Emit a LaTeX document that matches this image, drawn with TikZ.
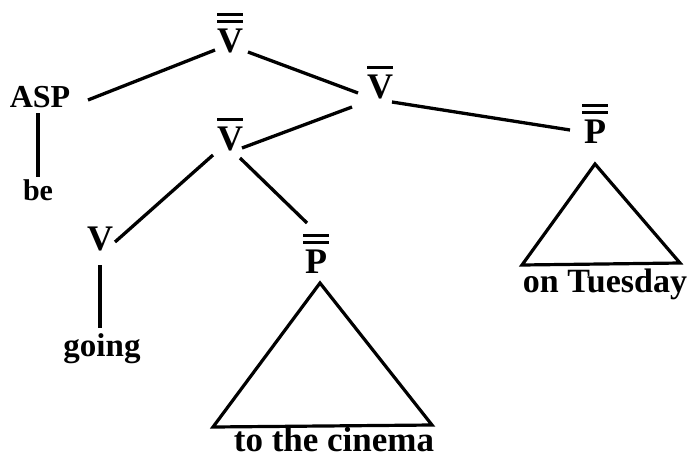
\documentclass[tikz,border=0pt]{standalone}
\usepackage{fontspec}
\setmainfont{Liberation Serif}
\usetikzlibrary{calc}
\newcommand\barline{\rule{0.7em}{3.5pt}}
\newcommand\sbar[1]{\vbox{\offinterlineskip\halign{\hfil##\hfil\cr\barline\cr\noalign{\kern5pt}#1\cr}}}
\newcommand\dbar[1]{\vbox{\offinterlineskip\halign{\hfil##\hfil\cr\barline\cr\noalign{\kern3.5pt}\barline\cr\noalign{\kern5pt}#1\cr}}}
\begin{document}
\begin{tikzpicture}[x=1pt,y=-1pt,
  conn/.style={line width=3.3pt},
  tri/.style={line width=3.2pt,line join=miter},
  cat/.style={inner sep=0pt,anchor=base,font=\fontsize{36}{40}\selectfont\bfseries},
  word/.style={inner sep=0pt,anchor=base,font=\fontsize{#1}{#1}\selectfont\bfseries}]
\useasboundingbox (0,0) rectangle (690,458);
\node[cat] (vbb) at (230,52) {\dbar{V}};
\node[word=32] (asp) at (40,107) {ASP};
\node[word=30] (be) at (38,200) {be};
\node[cat] (vbm) at (380,98) {\sbar{V}};
\node[cat] (vbl) at (230,150) {\sbar{V}};
\node[cat] (v) at (100,250) {V};
\node[word=33] (going) at (102,356) {going};
\node[cat] (ppl) at (316,273) {\dbar{P}};
\node[cat] (ppr) at (595,143) {\dbar{P}};
\node[word=34] (tue) at (605,292) {on Tuesday};
\node[word=35] (cin) at (334,451) {to the cinema};
\draw[conn] ($(vbb.base)+(-15,-2)$) -- ($(asp.base)+(48,-7)$);
\draw[conn] ($(vbb.base)+(18,0)$) -- ($(vbm.base)+(-22,-5)$);
\draw[conn] ($(vbm.base)+(-28,9)$) -- ($(vbl.base)+(12,-2)$);
\draw[conn] ($(vbm.base)+(12,4)$) -- ($(ppr.base)+(-25,-13)$);
\draw[conn] ($(vbl.base)+(-17,5)$) -- ($(v.base)+(15,-8)$);
\draw[conn] ($(vbl.base)+(10,8)$) -- ($(ppl.base)+(-9,-50)$);
\draw[conn] ($(asp.base)+(-2,6)$) -- ($(be.base)+(0,-23)$);
\draw[conn] ($(v.base)+(0,15)$) -- ($(going.base)+(-2,-28)$);
\draw[tri] ($(ppl.base)+(4,10)$) -- ($(cin.base)+(-121,-24)$) -- ($(cin.base)+(98,-26)$) -- cycle;
\draw[tri] ($(ppr.base)+(0,21)$) -- ($(tue.base)+(-83,-27)$) -- ($(tue.base)+(75,-29)$) -- cycle;
\end{tikzpicture}
\end{document}
